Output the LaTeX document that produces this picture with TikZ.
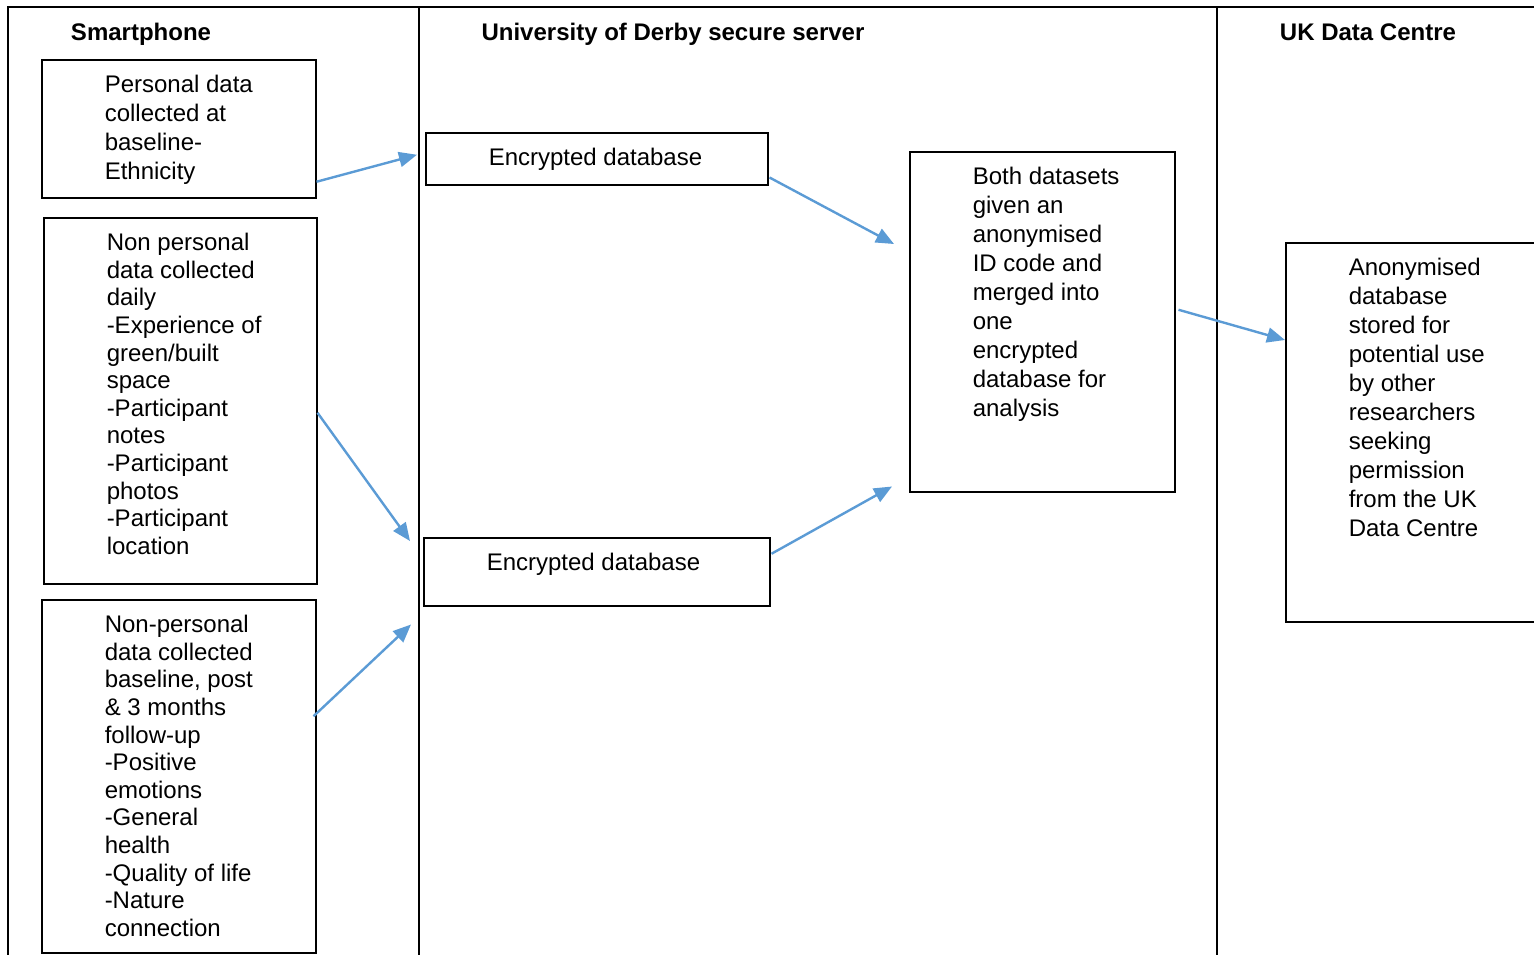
\documentclass[tikz,border=0pt]{standalone}
\usepackage{fontspec}
\setmainfont{Liberation Sans}
\usetikzlibrary{arrows.meta}
\definecolor{flowblue}{HTML}{5B9BD5}
\newcommand{\boxtext}[3]{\parbox[t][#2][t]{#1}{\leftskip=63pt\rule{0pt}{33pt}#3}}

\begin{document}
\begin{tikzpicture}[x=1pt,y=-1pt,
		databox/.style={draw, line width=1.5pt, inner sep=0pt, anchor=north west, font=\fontsize{24}{29}\selectfont},
		smallbox/.style={databox, font=\fontsize{24}{27.6}\selectfont},
		heading/.style={anchor=base, font=\fontsize{24}{29}\selectfont\bfseries},
		flow/.style={-{Triangle[length=18pt,width=15pt]}, line width=2.4pt, flowblue}]
		\useasboundingbox (0,0) rectangle (1534,954);
		% columns
		\draw [line width=1.5pt] (8,970) -- (8,7) -- (1550,7);
		\draw [line width=1.5pt] (419,7) -- (419,970);
		\draw [line width=1.5pt] (1217,7) -- (1217,970);
		\node[heading] (phone) at (141,40) {Smartphone};
		\node[heading] (server) at (673,40) {University of Derby secure server};
		\node[heading] (ukdc) at (1368,40) {UK Data Centre};
		% smartphone
		\node[databox] (p1) at (41,59) {\boxtext{274pt}{138pt}{Personal data\\collected at\\baseline-\\Ethnicity}};
		\node[smallbox] (p2) at (43,217) {\boxtext{273pt}{366pt}{Non personal\\data collected\\daily\\-Experience of\\green/built\\space\\-Participant\\notes\\-Participant\\photos\\-Participant\\location}};
		\node[smallbox] (p3) at (41,599) {\boxtext{274pt}{353pt}{Non-personal\\data collected\\baseline, post\\\& 3 months\\follow-up\\-Positive\\emotions\\-General\\health\\-Quality of life\\-Nature\\connection}};
		% server
		\node[databox] (e1) at (425,132) {\boxtext{342pt}{52pt}{Encrypted database}};
		\node[databox] (e2) at (423,537) {\boxtext{346pt}{68pt}{Encrypted database}};
		\node[databox] (merge) at (909,151) {\boxtext{265pt}{340pt}{Both datasets\\given an\\anonymised\\ID code and\\merged into\\one\\encrypted\\database for\\analysis}};
		% data centre
		\node[databox] (anon) at (1285,242) {\boxtext{275pt}{379pt}{Anonymised\\database\\stored for\\potential use\\by other\\researchers\\seeking\\permission\\from the UK\\Data Centre}};
		\draw [flow] ([yshift=-53pt]p1.east) -- ([xshift=-8pt,yshift=4pt]e1.west);
		\draw [flow] ([yshift=-12pt]p2.east) -- ([xshift=-13pt,yshift=-4pt]e2.north west);
		\draw [flow] ([xshift=-3pt,yshift=60pt]p3.east) -- ([xshift=-12pt,yshift=-18pt]e2.south west);
		\draw [flow] ([xshift=1pt,yshift=8pt]e1.south east) -- ([xshift=-15pt,yshift=-93pt]merge.north west);
		\draw [flow] ([xshift=1pt,yshift=18pt]e2.east) -- ([xshift=-17pt,yshift=6pt]merge.south west);
		\draw [flow] ([xshift=3pt,yshift=12pt]merge.east) -- ([yshift=-98pt]anon.north west);
\end{tikzpicture}
\end{document}
